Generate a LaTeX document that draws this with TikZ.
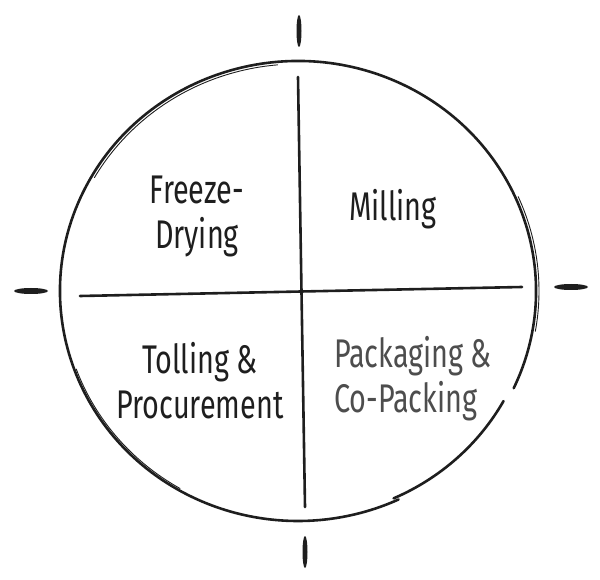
\documentclass[tikz,border=0pt]{standalone}
\usepackage{fontspec}
\setmainfont{Fira Sans}
\usetikzlibrary{shapes.geometric}
\definecolor{inkblack}{HTML}{1E1E1E}
\definecolor{inkgrey}{HTML}{4D4D4D}
\tikzset{
    stroke/.style = {draw=inkblack, line width=2.6pt, line cap=round},
    thinstroke/.style = {draw=inkblack, line width=0.9pt, line cap=round},
    tickmark/.style = {ellipse, fill=inkblack, inner sep=0pt},
    htick/.style = {tickmark, minimum width=34pt, minimum height=6pt},
    vtick/.style = {tickmark, minimum width=5pt, minimum height=32pt},
    quad/.style = {align=center, text=inkblack, font=\fontsize{40}{45}\selectfont, transform shape, xscale=0.72},
    quadgrey/.style = {quad, text=inkgrey, align=left}
}

\begin{document}
\begin{tikzpicture}[x=1pt, y=-1pt]
    \useasboundingbox (0,0) rectangle (600,580);

    \coordinate (ctr) at (298,291);

    % the circle, drawn in two strokes
    \draw[stroke] (ctr) ++(25:238 and 230) arc[start angle=25, end angle=-295, x radius=238, y radius=230];
    \draw[stroke] (ctr) ++(29:235 and 227) arc[start angle=29, end angle=66, x radius=235, y radius=227];
    \draw[thinstroke] (ctr) ++(-150:235 and 227) arc[start angle=-150, end angle=-95, x radius=235, y radius=227];
    \draw[thinstroke] (ctr) ++(120:236 and 228) arc[start angle=120, end angle=160, x radius=236, y radius=228];
    \draw[thinstroke] (ctr) ++(-24:241 and 232) arc[start angle=-24, end angle=10, x radius=241, y radius=232];

    % dividers
    \coordinate (vtop) at (298,77);
    \coordinate (vbot) at (305,507);
    \coordinate (hleft) at (80,296);
    \coordinate (hright) at (522,287);
    \draw[stroke] (vtop) -- (vbot);
    \draw[stroke] (hleft) -- (hright);

    % ticks
    \node[vtick] (ticktop) at (299,31) {};
    \node[vtick] (tickbot) at (305,552) {};
    \node[htick] (tickleft) at (31,291) {};
    \node[htick] (tickright) at (571,287) {};

    % labels
    \node[quad] (freeze) at (197,216) {Freeze-\\Drying};
    \node[quad] (milling) at (393,209) {Milling};
    \node[quad] (tolling) at (200,381) {Tolling \&\\Procurement};
    \node[quadgrey] (packing) at (413,379) {Packaging \&\\Co-Packing};
\end{tikzpicture}
\end{document}
